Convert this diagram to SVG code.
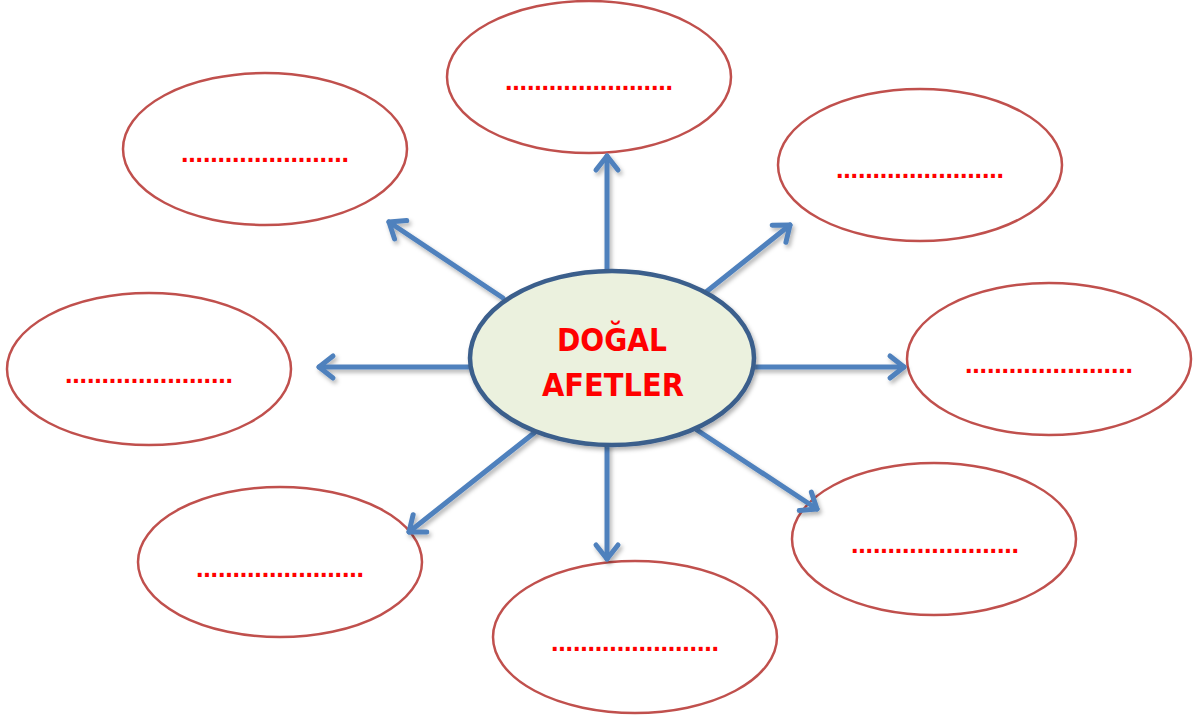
<svg xmlns="http://www.w3.org/2000/svg" width="1196" height="719" viewBox="0 0 1196 719">
<defs>
<marker id="ah" markerUnits="userSpaceOnUse" markerWidth="30" markerHeight="30" refX="20" refY="15" orient="auto" viewBox="0 0 30 30">
<path d="M6,4 L20,15 L6,26" fill="none" stroke="#4f81bd" stroke-width="5" stroke-linecap="round" stroke-linejoin="round"/>
</marker>
<filter id="sh" x="-20%" y="-20%" width="140%" height="140%">
<feDropShadow dx="2" dy="3" stdDeviation="2" flood-color="#000" flood-opacity="0.3"/>
</filter>
</defs>
<style>
.n{fill:#fff;stroke:#c0504d;stroke-width:2.5}
.d{fill:#ff0000;font-family:"Liberation Sans",Arial,sans-serif;font-weight:bold;font-size:27px;text-anchor:middle}
.c{stroke:#4f81bd;stroke-width:5;fill:none;marker-end:url(#ah);stroke-linecap:round}
.t{fill:#ff0000;font-family:"DejaVu Sans",sans-serif;font-weight:bold;font-size:32px;text-anchor:middle}
</style>
<rect width="1196" height="719" fill="#fff"/>
<g id="n1"><ellipse class="n" cx="589" cy="77" rx="142" ry="76"/><text class="d" x="589" y="90" textLength="168" lengthAdjust="spacing">.......................</text></g>
<g id="n2"><ellipse class="n" cx="265" cy="149" rx="142" ry="76"/><text class="d" x="265" y="162" textLength="168" lengthAdjust="spacing">.......................</text></g>
<g id="n3"><ellipse class="n" cx="920" cy="165" rx="142" ry="76"/><text class="d" x="920" y="178" textLength="168" lengthAdjust="spacing">.......................</text></g>
<g id="n4"><ellipse class="n" cx="149" cy="369" rx="142" ry="76"/><text class="d" x="149" y="383" textLength="168" lengthAdjust="spacing">.......................</text></g>
<g id="n5"><ellipse class="n" cx="1049" cy="359" rx="142" ry="76"/><text class="d" x="1049" y="373" textLength="168" lengthAdjust="spacing">.......................</text></g>
<g id="n6"><ellipse class="n" cx="934" cy="539" rx="142" ry="76"/><text class="d" x="935" y="553" textLength="168" lengthAdjust="spacing">.......................</text></g>
<g id="n7"><ellipse class="n" cx="280" cy="562" rx="142" ry="75"/><text class="d" x="280" y="577" textLength="168" lengthAdjust="spacing">.......................</text></g>
<g id="n8"><ellipse class="n" cx="635" cy="637" rx="142" ry="76"/><text class="d" x="635" y="651" textLength="168" lengthAdjust="spacing">.......................</text></g>
<g id="connectors" filter="url(#sh)">
<line class="c" x1="607" y1="272" x2="607" y2="156"/>
<line class="c" x1="503" y1="298" x2="389" y2="222"/>
<line class="c" x1="706" y1="292" x2="790" y2="225"/>
<line class="c" x1="470" y1="367" x2="319" y2="367"/>
<line class="c" x1="754" y1="367" x2="904" y2="367"/>
<line class="c" x1="697" y1="430" x2="817" y2="509"/>
<line class="c" x1="607" y1="445" x2="607" y2="559"/>
<line class="c" x1="534" y1="433" x2="409" y2="532"/>
</g>
<g id="center">
<ellipse cx="612" cy="358" rx="142" ry="87" fill="#ebf1de" stroke="#3b5e8c" stroke-width="4.5" filter="url(#sh)"/>
<text class="t" x="612" y="351" textLength="110" lengthAdjust="spacingAndGlyphs">DOĞAL</text>
<text class="t" x="613" y="396" textLength="142" lengthAdjust="spacingAndGlyphs">AFETLER</text>
</g>
</svg>
